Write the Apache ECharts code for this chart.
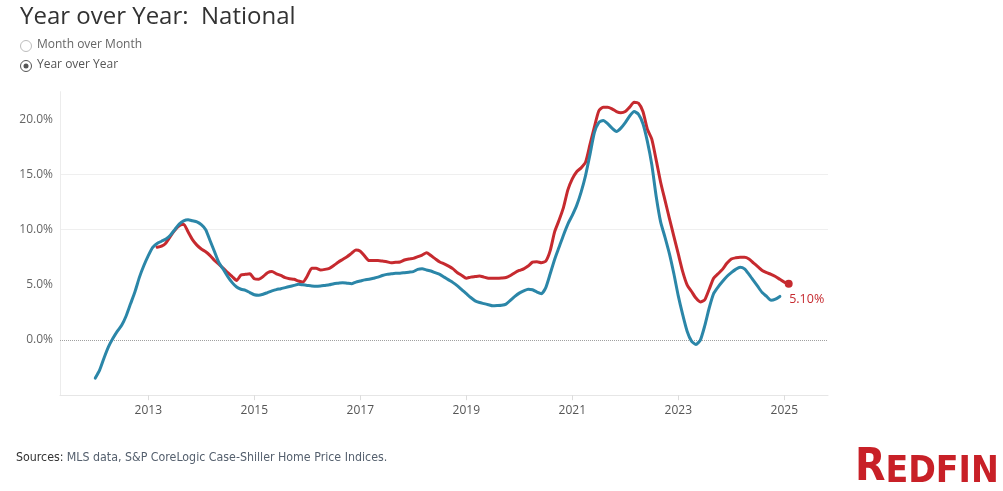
<!DOCTYPE html>
<html><head><meta charset="utf-8">
<script src="https://cdn.jsdelivr.net/npm/echarts@6/dist/echarts.min.js"></script>
<style>html,body{margin:0;padding:0;background:#fff;}#c{width:1003px;height:491px;}</style>
</head><body><div id="c"></div>
<script>
// S&P CoreLogic Case-Shiller National, YoY %, monthly from Jan 2012
const blueName = 'S&P CoreLogic Case-Shiller';
const blueStart = [2012, 1];
const blueValues = [
  -3.45, -2.7, -1.6, -0.6, 0.15, 0.8, 1.35, 2.2, 3.3, 4.4, 5.7, 6.75,
  7.65, 8.4, 8.75, 8.95, 9.15, 9.5, 10.0, 10.5, 10.8, 10.9, 10.8, 10.7,
  10.45, 10.0, 9.0, 8.0, 7.0, 6.4, 5.75, 5.2, 4.8, 4.6, 4.5, 4.3,
  4.1, 4.05, 4.15, 4.3, 4.45, 4.57, 4.65, 4.75, 4.85, 4.95, 5.05, 5.0,
  4.95, 4.9, 4.87, 4.9, 4.95, 5.0, 5.1, 5.15, 5.2, 5.15, 5.1, 5.25,
  5.35, 5.45, 5.5, 5.6, 5.7, 5.85, 5.95, 6.0, 6.05, 6.05, 6.1, 6.15,
  6.2, 6.4, 6.45, 6.35, 6.25, 6.1, 5.95, 5.7, 5.45, 5.2, 4.9, 4.55,
  4.2, 3.85, 3.55, 3.4, 3.3, 3.2, 3.1, 3.12, 3.15, 3.25, 3.6, 3.95,
  4.25, 4.45, 4.6, 4.55, 4.35, 4.2, 4.75, 6.0, 7.3, 8.4, 9.5, 10.5,
  11.3, 12.2, 13.4, 14.9, 16.8, 18.8, 19.7, 19.9, 19.6, 19.2, 18.9, 19.2,
  19.7, 20.3, 20.7, 20.45, 19.6, 18.0, 15.9, 13.0, 10.7, 9.3, 7.8, 6.0,
  4.0, 2.3, 0.8, -0.1, -0.4, 0.0, 1.3, 2.9, 4.2, 4.8, 5.3, 5.75,
  6.1, 6.4, 6.6, 6.45, 5.95, 5.4, 4.85, 4.3, 3.95, 3.6, 3.7, 3.95
];
// Redfin Home Price Index, YoY %, monthly from Mar 2013
const redName = 'Redfin';
const redStart = [2013, 3];
const redValues = [
  8.4, 8.5, 8.8, 9.4, 9.95, 10.35, 10.5, 9.8, 9.1, 8.6,
  8.25, 8.0, 7.65, 7.2, 6.85, 6.5, 6.1, 5.75, 5.4, 5.9, 5.95, 6.0,
  5.55, 5.5, 5.75, 6.1, 6.2, 6.0, 5.85, 5.65, 5.55, 5.5, 5.35, 5.25,
  5.8, 6.5, 6.5, 6.35, 6.4, 6.5, 6.75, 7.05, 7.3, 7.55, 7.85, 8.15,
  8.05, 7.6, 7.2, 7.2, 7.2, 7.15, 7.1, 7.0, 7.05, 7.07, 7.25, 7.35,
  7.4, 7.55, 7.7, 7.9, 7.65, 7.35, 7.07, 6.9, 6.7, 6.45, 6.1, 5.85,
  5.6, 5.7, 5.75, 5.8, 5.7, 5.6, 5.6, 5.6, 5.62, 5.66, 5.85, 6.1,
  6.3, 6.45, 6.7, 7.05, 7.1, 7.0, 7.15, 8.1, 9.8, 10.85, 12.0, 13.6,
  14.6, 15.25, 15.6, 16.1, 17.7, 19.3, 20.75, 21.1, 21.1, 20.95, 20.7, 20.6,
  20.7, 21.1, 21.55, 21.45, 20.7, 19.1, 18.2, 16.3, 14.3, 12.65, 11.0, 9.4,
  7.8, 6.2, 5.0, 4.4, 3.8, 3.45, 3.65, 4.6, 5.6, 6.0, 6.4, 6.95,
  7.35, 7.45, 7.5, 7.5, 7.35, 7.0, 6.65, 6.3, 6.1, 5.95, 5.75, 5.5,
  5.25, 5.1
];
const yTickValues = [0, 5, 10, 15, 20];
const yGridValues = [5, 10, 15, 20];
const xTickYears = [2013, 2015, 2017, 2019, 2021, 2023, 2025];

function toPoints(start, vals) {
  return vals.map((v, i) => [start[0] + (start[1] - 1 + i) / 12, v]);
}
const bluePts = toPoints(blueStart, blueValues);
const redPts = toPoints(redStart, redValues);
const lastRed = redPts[redPts.length - 1];
const redData = redPts.slice(0, -1).map(p => ({ value: p }));
redData.push({
  value: lastRed,
  symbol: 'circle', symbolSize: 8,
  label: {
    show: true, position: 'bottom', distance: 5, offset: [18, 0],
    formatter: p => p.value[1].toFixed(2) + '%',
    color: '#c62a2f', fontSize: 12.5, fontFamily: 'Open Sans'
  }
});

const RED = '#c62a2f', BLUE = '#2b86a8';
const NARROW = '"Liberation Sans Narrow", "DejaVu Sans Condensed", sans-serif';
const chart = echarts.init(document.getElementById('c'), null, { renderer: 'canvas' });
chart.setOption({
  animation: false,
  backgroundColor: '#fff',
  textStyle: { fontFamily: 'Open Sans' },
  grid: { left: 60, right: 175, top: 91.7, bottom: 95.8, containLabel: false },
  xAxis: {
    type: 'value', min: 2011.334, max: 2025.825,
    axisLine: { show: true, onZero: false, lineStyle: { color: '#e6e6e6', width: 1 } },
    axisTick: { show: true, customValues: xTickYears, length: 5, lineStyle: { color: '#dcdcdc' } },
    axisLabel: { customValues: xTickYears, formatter: v => String(Math.round(v)), color: '#555', fontSize: 12, margin: 9 },
    splitLine: { show: false }
  },
  yAxis: {
    type: 'value', min: -5, max: 22.5,
    axisLine: { show: true, lineStyle: { color: '#ececec', width: 1 } },
    axisTick: { show: false, customValues: yGridValues },
    axisLabel: { customValues: yTickValues, formatter: v => v.toFixed(1) + '%', color: '#666', fontSize: 12, margin: 7 },
    splitLine: { show: true, showMinLine: false, showMaxLine: false, lineStyle: { color: '#efefef', width: 1 } }
  },
  series: [
    {
      name: redName, type: 'line', data: redData, showSymbol: true, symbol: 'none',
      lineStyle: { color: RED, width: 3, join: 'round', cap: 'round' }, itemStyle: { color: RED },
      smooth: 0.2, z: 3
    },
    {
      name: blueName, type: 'line', data: bluePts, showSymbol: false, symbol: 'none',
      lineStyle: { color: BLUE, width: 3, join: 'round', cap: 'round' }, itemStyle: { color: BLUE },
      smooth: 0.2, z: 4,
      markLine: {
        silent: true, symbol: 'none', label: { show: false },
        lineStyle: { type: 'dotted', color: '#a0a0a0', width: 1 },
        data: [{ yAxis: 0 }], z: 1
      }
    }
  ],
  graphic: [
    { type: 'text', left: 20, top: 5, style: { text: 'Year over Year:  National', fill: '#333', font: '24px "Open Sans"' } },
    { type: 'circle', shape: { cx: 26, cy: 46, r: 5.5 }, style: { fill: '#fff', stroke: '#bdbdbd', lineWidth: 1 } },
    { type: 'text', left: 37, top: 39, style: { text: 'Month over Month', fill: '#666', font: '12px "Open Sans"' } },
    { type: 'circle', shape: { cx: 26, cy: 66, r: 5.5 }, style: { fill: '#fff', stroke: '#555', lineWidth: 1 } },
    { type: 'circle', shape: { cx: 26, cy: 66, r: 2.5 }, style: { fill: '#555' } },
    { type: 'text', left: 37, top: 59, style: { text: 'Year over Year', fill: '#555', font: '12px "Open Sans"' } },
    { type: 'text', left: 16, top: 452, style: {
        text: '{a|Sources:} {b|MLS data, S&P CoreLogic Case-Shiller Home Price Indices.}',
        rich: {
          a: { font: '12.3px ' + NARROW, fill: '#333' },
          b: { font: '12.3px ' + NARROW, fill: '#55606e' }
        }
    } },
    { type: 'text', left: 855, top: 447, style: {
        text: '{a|R}{b|EDFIN}', fill: '#c82027',
        rich: {
          a: { font: 'bold 44px ' + NARROW, fill: '#c82027', verticalAlign: 'bottom' },
          b: { font: 'bold 37px ' + NARROW, fill: '#c82027', verticalAlign: 'bottom' }
        }
    } }
  ]
});
</script></body></html>
